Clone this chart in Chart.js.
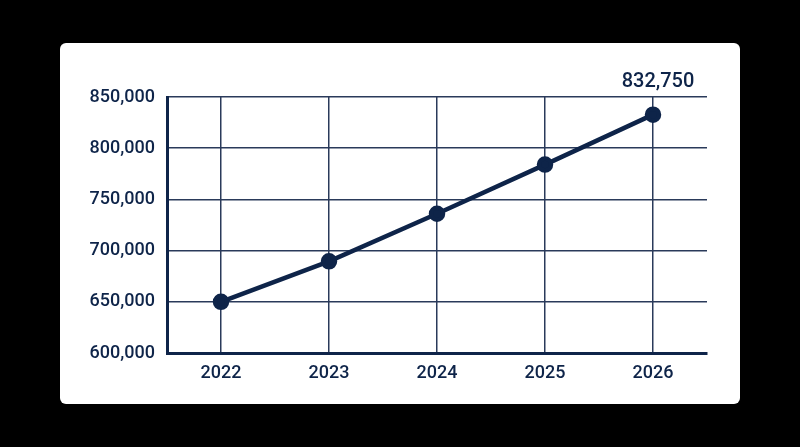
<!DOCTYPE html>
<html>
<head>
<meta charset="utf-8">
<script src="https://cdn.jsdelivr.net/npm/chart.js@4.4.1/dist/chart.umd.min.js"></script>
<style>
    html, body { margin: 0; padding: 0; background: #000; width: 800px; height: 447px; overflow: hidden; }
    #card {
        position: absolute; left: 60px; top: 43px; width: 680px; height: 361px;
        background: #fff; border-radius: 6px; overflow: hidden;
    }
    #card canvas { display: block; }
</style>
</head>
<body>
<div id="card"><canvas id="growthChart"></canvas></div>
<script>
// Datos del grafico
const years = ['2022', '2023', '2024', '2025', '2026'];
const values = [650000, 689500, 736000, 784000, 832750];
const yTicks = [600000, 650000, 700000, 750000, 800000, 850000];

const NAVY = '#0e2449';
const GRID = '#2a3a5a';

// Etiqueta del ultimo valor encima del punto
const lastValueLabel = {
    id: 'lastValueLabel',
    afterDatasetsDraw(chart) {
        const meta = chart.getDatasetMeta(0);
        const pt = meta.data[meta.data.length - 1];
        const ctx = chart.ctx;
        ctx.save();
        ctx.font = '500 20px Roboto';
        ctx.fillStyle = NAVY;
        ctx.textAlign = 'center';
        ctx.textBaseline = 'middle';
        ctx.fillText(values[values.length - 1].toLocaleString('en-US'), pt.x + 5, pt.y - 33);
        ctx.restore();
    }
};

const ctx = document.getElementById('growthChart').getContext('2d');

new Chart(ctx, {
    type: 'line',
    data: {
        labels: years,
        datasets: [{
            data: values,
            borderColor: NAVY,
            backgroundColor: NAVY,
            borderWidth: 4.5,
            pointRadius: 6,
            pointHoverRadius: 6,
            pointBackgroundColor: NAVY,
            pointBorderColor: NAVY,
            tension: 0,
        }]
    },
    options: {
        responsive: true,
        maintainAspectRatio: false,
        animation: false,
        layout: {
            padding: { top: 54, right: 33, left: 0, bottom: 0 }
        },
        plugins: {
            legend: { display: false },
            tooltip: { enabled: false }
        },
        scales: {
            x: {
                offset: true,
                grid: {
                    offset: false,
                    color: GRID,
                    lineWidth: 1.5,
                    drawTicks: false
                },
                border: { color: NAVY, width: 3 },
                ticks: {
                    color: NAVY,
                    padding: 10,
                    font: { family: 'Roboto', size: 18, weight: '500' }
                },
                afterFit(scale) { scale.height = 51; }
            },
            y: {
                min: yTicks[0],
                max: yTicks[yTicks.length - 1],
                afterBuildTicks(scale) {
                    scale.ticks = yTicks.map(v => ({ value: v }));
                },
                grid: {
                    color: GRID,
                    lineWidth: 1.5,
                    drawTicks: false
                },
                border: { color: NAVY, width: 3 },
                ticks: {
                    color: NAVY,
                    padding: 12,
                    font: { family: 'Roboto', size: 18, weight: '500' },
                    callback: v => v.toLocaleString('en-US')
                },
                afterFit(scale) { scale.width = 107; }
            }
        }
    },
    plugins: [lastValueLabel]
});
</script>
</body>
</html>
